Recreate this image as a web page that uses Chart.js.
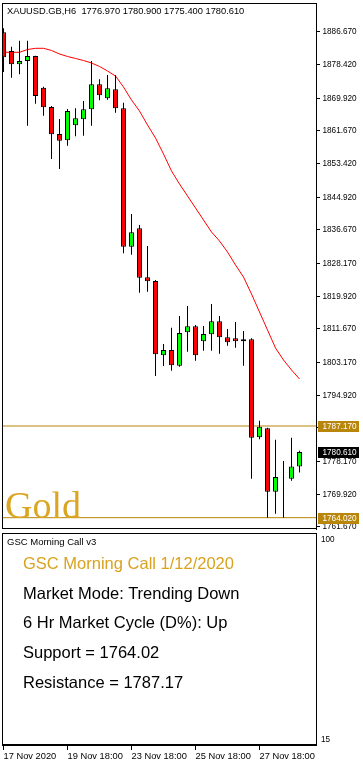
<!DOCTYPE html>
<html><head><meta charset="utf-8">
<script src="https://cdn.jsdelivr.net/npm/chart.js@4.4.1/dist/chart.umd.min.js"></script>
<style>
html,body{margin:0;padding:0;background:#fff;width:363px;height:765px;overflow:hidden;}
#wrap{position:relative;width:363px;height:765px;}
canvas{position:absolute;left:0;}
.t{position:absolute;white-space:pre;font-family:'Liberation Sans',Arial,sans-serif;color:#000;}
.big{font-size:16.5px;line-height:20px;left:23px;}
</style></head><body>
<div id="wrap">
<canvas id="main" width="363" height="531" style="top:0;width:363px;height:531px"></canvas>
<canvas id="sub" width="363" height="234" style="top:531px;width:363px;height:234px"></canvas>
<div class="t" id="hdr" style="left:7px;top:4.7px;font-size:9.3px;line-height:12px"></div>
<div class="t" id="gold" style="left:5px;top:485.5px;font-family:'Liberation Serif','Times New Roman',serif;font-size:38px;line-height:38px;color:#DAA520">Gold</div>
<div class="t" id="ind" style="left:7px;top:535.7px;font-size:9.5px;line-height:12px"></div>
<div class="t big" id="l1" style="top:552.6px;color:#D9A21F"></div>
<div class="t big" id="l2" style="top:582.6px"></div>
<div class="t big" id="l3" style="top:611.6px"></div>
<div class="t big" id="l4" style="top:642px"></div>
<div class="t big" id="l5" style="top:671.6px"></div>
</div>
<script>
// ---------- data ----------
const symbol = 'XAUUSD.GB,H6';
const opens  = [1886.59,1881.87,1878.51,1879.35,1880.61,1872.60,1867.73,1860.91,1859.32,1863.11,
                1864.62,1867.15,1873.46,1869.93,1872.20,1867.40,1832.45,1837.10,1824.73,1823.79,
                1805.03,1806.37,1802.40,1810.84,1812.35,1808.56,1810.33,1813.61,1809.57,1809.32,
                1808.56,1809.07,1784.32,1786.59,1770.58,1774.10,1773.87,1776.97];
const highs  = [1887.60,1882.96,1884.47,1884.47,1880.70,1872.86,1867.98,1864.70,1867.23,1867.40,
                1869.25,1879.35,1874.73,1875.81,1875.81,1868.82,1840.71,1837.93,1832.63,1824.04,
                1807.88,1812.00,1814.95,1817.48,1812.68,1812.43,1817.98,1814.95,1811.67,1813.44,
                1811.16,1809.32,1788.51,1786.70,1783.72,1778.34,1784.22,1780.90];
const lows   = [1876.57,1875.13,1875.99,1863.01,1868.56,1865.53,1854.60,1852.07,1857.96,1860.33,
                1860.48,1863.01,1869.42,1869.57,1866.29,1830.79,1830.43,1820.84,1821.09,1799.80,
                1802.33,1801.14,1802.15,1805.94,1803.67,1806.19,1806.19,1805.43,1807.45,1806.95,
                1802.40,1773.87,1783.82,1764.02,1765.03,1764.02,1773.36,1775.40];
const closes = [1880.28,1878.51,1879.35,1880.61,1870.51,1867.65,1860.84,1859.22,1866.72,1864.88,
                1867.15,1873.46,1870.69,1872.45,1867.40,1832.45,1836.09,1824.62,1823.72,1805.28,
                1806.37,1802.50,1810.66,1812.35,1805.03,1810.41,1813.61,1809.57,1808.31,1808.56,
                1809.07,1784.22,1787.00,1770.58,1774.30,1774.15,1776.97,1780.61];
const maValues = [1881.54,1881.54,1881.54,1882.25,1882.55,1882.55,1882.00,1881.11,1880.48,1879.98,
                  1879.47,1878.84,1877.96,1876.82,1875.56,1872.78,1869.50,1866.72,1863.19,1859.90,
                  1855.86,1851.57,1848.29,1845.26,1842.23,1839.20,1836.16,1833.89,1831.11,1827.83,
                  1824.80,1820.51,1815.96,1811.42,1806.87,1803.84,1801.32,1799.04];
const resistance = 1787.17;
const support = 1764.02;
const priceTicks = [1886.67,1878.42,1869.92,1861.67,1853.42,1844.92,1836.67,1828.17,1819.92,
                    1811.67,1803.17,1794.92,1786.67,1778.17,1769.92,1761.67];
const xTickIndex = [0,8,16,24,32];
const xTickLabels = ['17 Nov 2020','19 Nov 18:00','23 Nov 18:00','25 Nov 18:00','27 Nov 18:00'];
const indTicks = [15,100];
const panelTitle = 'GSC Morning Call v3';
const callLines = ['GSC Morning Call 1/12/2020','Market Mode: Trending Down',
                   '6 Hr Market Cycle (D%): Up','Support = 1764.02','Resistance = 1787.17'];

// ---------- texts ----------
const last = closes.length - 1;
document.getElementById('hdr').textContent = symbol + '  ' +
  [opens[last], highs[last], lows[last], closes[last]].map(v => v.toFixed(3)).join(' ');
document.getElementById('ind').textContent = panelTitle;
callLines.forEach((s,i) => document.getElementById('l'+(i+1)).textContent = s);

// ---------- chart ----------
const X_MIN = -0.1875, X_MAX = 39.0625;
const axisFont = {family:"'Liberation Sans',Arial,sans-serif", size:8.2};
const labelFont = {family:"'Liberation Sans',Arial,sans-serif", size:9.3};
Chart.defaults.animation = false;
Chart.defaults.plugins.legend.display = false;
Chart.defaults.plugins.tooltip.enabled = false;

const idx = opens.map((_, i) => i);
const noPad = s => { s.paddingTop = 0; s.paddingBottom = 0; s.paddingLeft = 0; s.paddingRight = 0; };
const boxPlugin = {
  id:'box',
  afterDraw(chart){
    const {ctx, chartArea:a} = chart;
    ctx.save();
    ctx.strokeStyle = '#000'; ctx.lineWidth = 1;
    ctx.strokeRect(a.left + 0.5, a.top + 0.5, a.right - a.left, a.bottom - a.top - 1);
    ctx.restore();
  }
};
const tagPlugin = {
  id:'tags',
  afterDraw(chart){
    const {ctx} = chart; const ys = chart.scales.y;
    const tags = [{v:resistance, bg:'#B8860B'}, {v:support, bg:'#B8860B'}, {v:closes[last], bg:'#000'}];
    ctx.save();
    ctx.font = `${axisFont.size}px ${axisFont.family}`;
    ctx.textBaseline = 'middle'; ctx.textAlign = 'left';
    tags.forEach(t => {
      const y = ys.getPixelForValue(t.v);
      ctx.fillStyle = t.bg;
      ctx.fillRect(318, Math.round(y) - 5, 41, 11);
      ctx.fillStyle = '#fff';
      ctx.fillText(t.v.toFixed(3), 322.5, Math.round(y) + 0.5);
    });
    ctx.restore();
  }
};

new Chart(document.getElementById('main'), {
  type:'bar',
  data:{
    datasets:[
      {type:'bar', order:0, grouped:false, barThickness:5, inflateAmount:0, borderSkipped:false,
       data: idx.map(i => ({x:i, y:[opens[i], closes[i]]})),
       backgroundColor: idx.map(i => closes[i] >= opens[i] ? '#00FF00' : '#FF0000'),
       borderColor:'#000', borderWidth:1},
      {type:'bar', order:1, grouped:false, barThickness:1, inflateAmount:0, borderWidth:0,
       data: idx.map(i => ({x:i, y:[lows[i], highs[i]]})), backgroundColor:'#000'},
      {type:'line', order:2, data: idx.map(i => ({x:i, y:maValues[i]})),
       borderColor:'#FF0000', borderWidth:1, pointRadius:0, tension:0},
      {type:'line', order:3, data:[{x:X_MIN,y:resistance},{x:X_MAX,y:resistance}],
       borderColor:'#B8860B', borderWidth:1, pointRadius:0},
      {type:'line', order:3, data:[{x:X_MIN,y:support},{x:X_MAX,y:support}],
       borderColor:'#B8860B', borderWidth:1, pointRadius:0}
    ]
  },
  options:{
    responsive:false, devicePixelRatio:1,
    layout:{padding:{left:2, top:3, right:0, bottom:2}},
    scales:{
      x:{type:'linear', display:false, min:X_MIN, max:X_MAX, offset:false},
      y:{type:'linear', position:'right', min:1761.16, max:1893.99,
         afterBuildTicks: s => { s.ticks = priceTicks.map(v => ({value:v})); },
         afterFit: s => { s.width = 47; noPad(s); },
         ticks:{autoSkip:false, padding:2.5, color:'#000', font:axisFont, callback: v => Number(v).toFixed(3)},
         grid:{drawOnChartArea:false, drawTicks:true, tickLength:4, color:'#000'},
         border:{display:true, color:'#000'}}
    }
  },
  plugins:[boxPlugin, tagPlugin]
});

new Chart(document.getElementById('sub'), {
  type:'line',
  data:{datasets:[]},
  options:{
    responsive:false, devicePixelRatio:1,
    layout:{padding:{left:2, top:2, right:0, bottom:0}},
    scales:{
      x:{type:'linear', position:'bottom', min:X_MIN, max:X_MAX, offset:false,
         afterBuildTicks: s => { s.ticks = xTickIndex.map(v => ({value:v})); },
         afterFit: s => { s.height = 20; noPad(s); },
         ticks:{autoSkip:false, maxRotation:0, align:'start', padding:1, color:'#000', font:labelFont,
                callback: (v, i) => xTickLabels[i]},
         grid:{drawOnChartArea:false, drawTicks:true, tickLength:5, color:'#000'},
         border:{display:true, color:'#000'}},
      y:{type:'linear', position:'right', min:12.9, max:102.9,
         afterBuildTicks: s => { s.ticks = indTicks.map(v => ({value:v})); },
         afterFit: s => { s.width = 47; noPad(s); },
         ticks:{autoSkip:false, padding:5, color:'#000', font:axisFont},
         grid:{drawOnChartArea:false, drawTicks:false},
         border:{display:true, color:'#000'}}
    }
  },
  plugins:[boxPlugin]
});
</script>
</body></html>
